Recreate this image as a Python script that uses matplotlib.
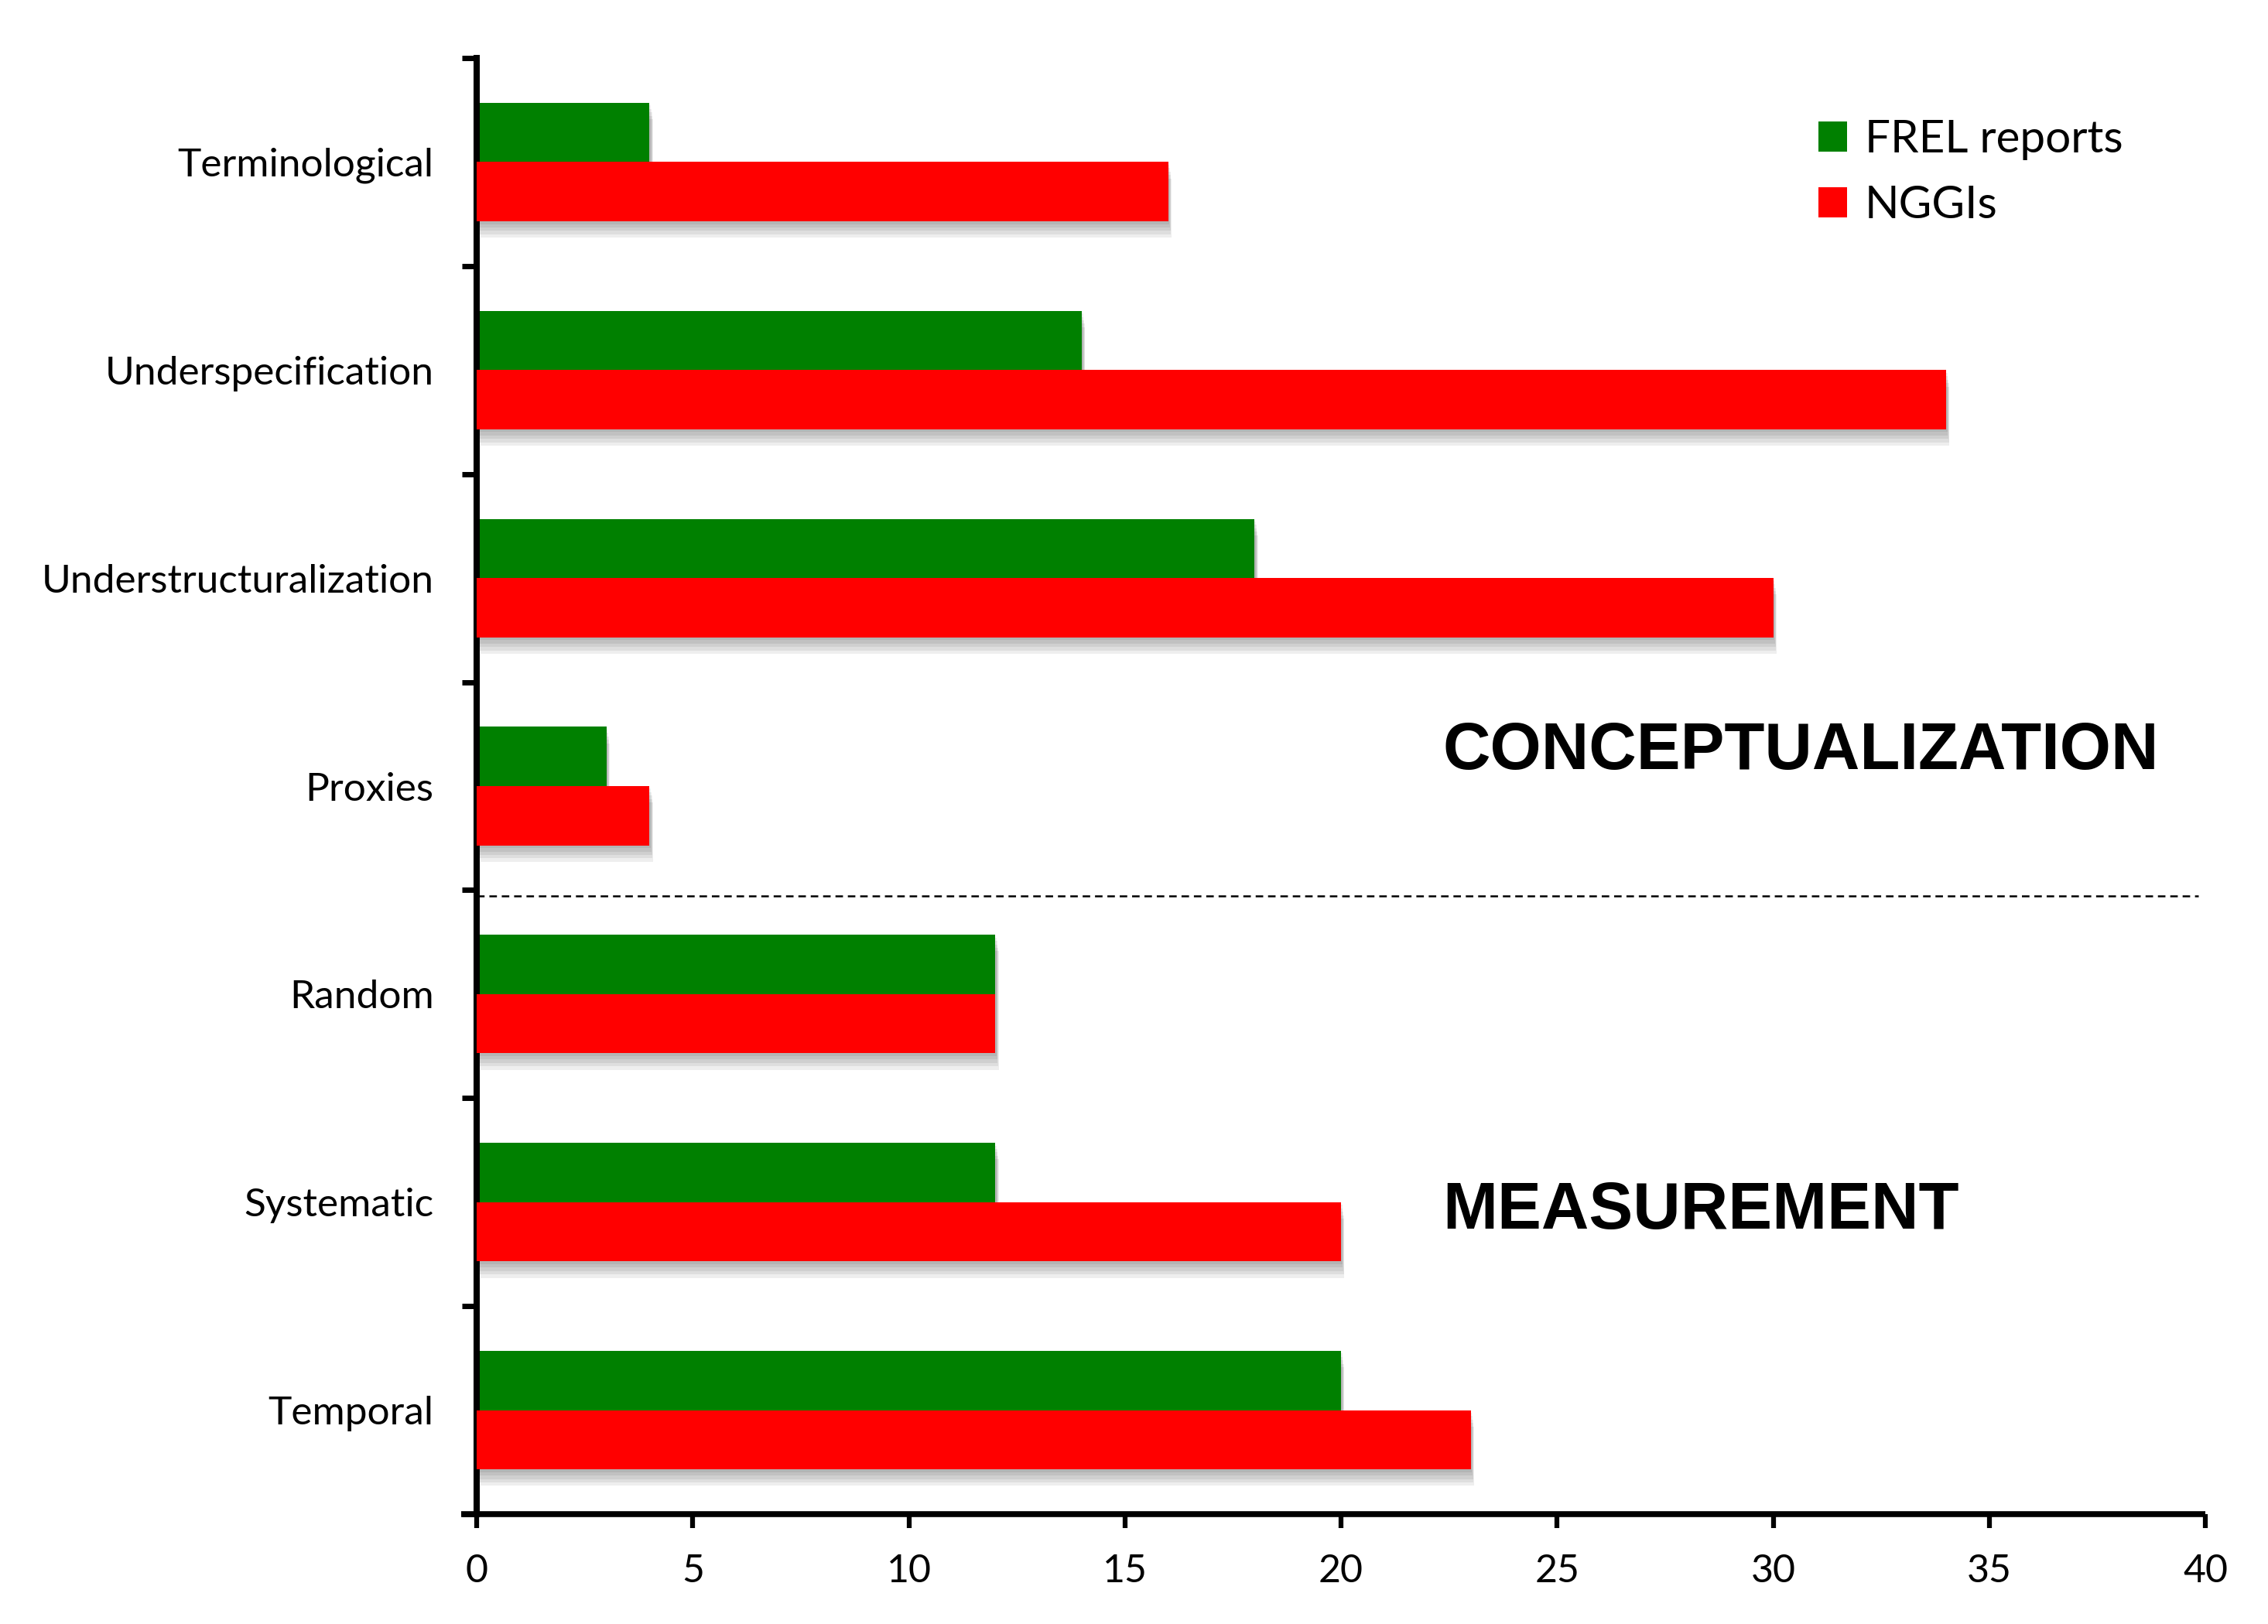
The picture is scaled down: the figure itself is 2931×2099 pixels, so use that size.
import matplotlib
matplotlib.use("Agg")
import matplotlib.pyplot as plt
import matplotlib.patheffects as pe
import numpy as np

categories = ["Terminological", "Underspecification", "Understructuralization",
              "Proxies", "Random", "Systematic", "Temporal"]
frel = [4, 14, 18, 3, 12, 12, 20]
nggi = [16, 34, 30, 4, 12, 20, 23]
series_names = ["FREL reports", "NGGIs"]
xticks = [0, 5, 10, 15, 20, 25, 30, 35, 40]

W, H = 2931, 2099
DPI = 100
plt.rcParams['lines.scale_dashes'] = False
fig = plt.figure(figsize=(W / DPI, H / DPI), dpi=DPI)
ax = fig.add_axes([596 / W, 1 - 1957 / H, (2850 - 596) / W, (1957 - 75) / H])

y = np.arange(len(categories))
h = 0.285

shadow = [pe.SimplePatchShadow(offset=(1.2 + 0.5 * i, -(2.5 + 3.2 * i)),
                               shadow_rgbFace='k', alpha=0.065) for i in range(5)]
shadow.append(pe.Normal())

b1 = ax.barh(y - h / 2, frel, height=h, color="#008000", label=series_names[0], zorder=2)
b2 = ax.barh(y + h / 2, nggi, height=h, color="#FF0000", label=series_names[1], zorder=3)
for p in list(b1) + list(b2):
    p.set_path_effects(shadow)

ax.set_xlim(-0.36, 40)
ax.set_ylim(6.5, -0.5)

for s in ["top", "right"]:
    ax.spines[s].set_visible(False)
ax.spines["left"].set_position(("data", 0))
ax.spines["left"].set_linewidth(5.8)
ax.spines["bottom"].set_linewidth(5.5)
ax.spines["bottom"].set_bounds(-0.36, 40)
ax.spines["bottom"].set_capstyle("butt")

lab_font = "Lato"
ax.set_xticks(xticks)
ax.set_xticklabels([str(v) for v in xticks], fontsize=36, family=lab_font)
ax.tick_params(axis="x", which="major", direction="out", length=13, width=4.5, pad=24)

ax.set_yticks(y)
ax.set_yticklabels(categories, fontsize=37, family=lab_font)
ax.tick_params(axis="y", which="major", length=0, pad=40)
ax.set_yticks(np.arange(-0.5, 7, 1), minor=True)
ax.tick_params(axis="y", which="minor", direction="out", length=14, width=5)

ax.plot([0, 39.84], [3.53, 3.53], color="black", lw=1.8, dashes=(7, 4.5), zorder=4)

fig.text(1864 / W, 1 - 994 / H, "CONCEPTUALIZATION", fontsize=61.3, fontweight="bold",
         family="Liberation Sans", va="baseline", ha="left")
fig.text(1864 / W, 1 - 1588 / H, "MEASUREMENT", fontsize=61.3, fontweight="bold",
         family="Liberation Sans", va="baseline", ha="left")

leg = ax.legend(loc="upper left", bbox_to_anchor=(2350 / W, 1 - 154 / H),
                bbox_transform=fig.transFigure, frameon=False,
                prop={"family": lab_font, "size": 42},
                handlelength=0.63, handleheight=0.63, handletextpad=0.4,
                labelspacing=0.55, borderpad=0, borderaxespad=0)
for hdl in leg.legend_handles:
    hdl.set_path_effects([pe.Normal()])

fig.savefig("out.png", dpi=DPI, facecolor="white")
